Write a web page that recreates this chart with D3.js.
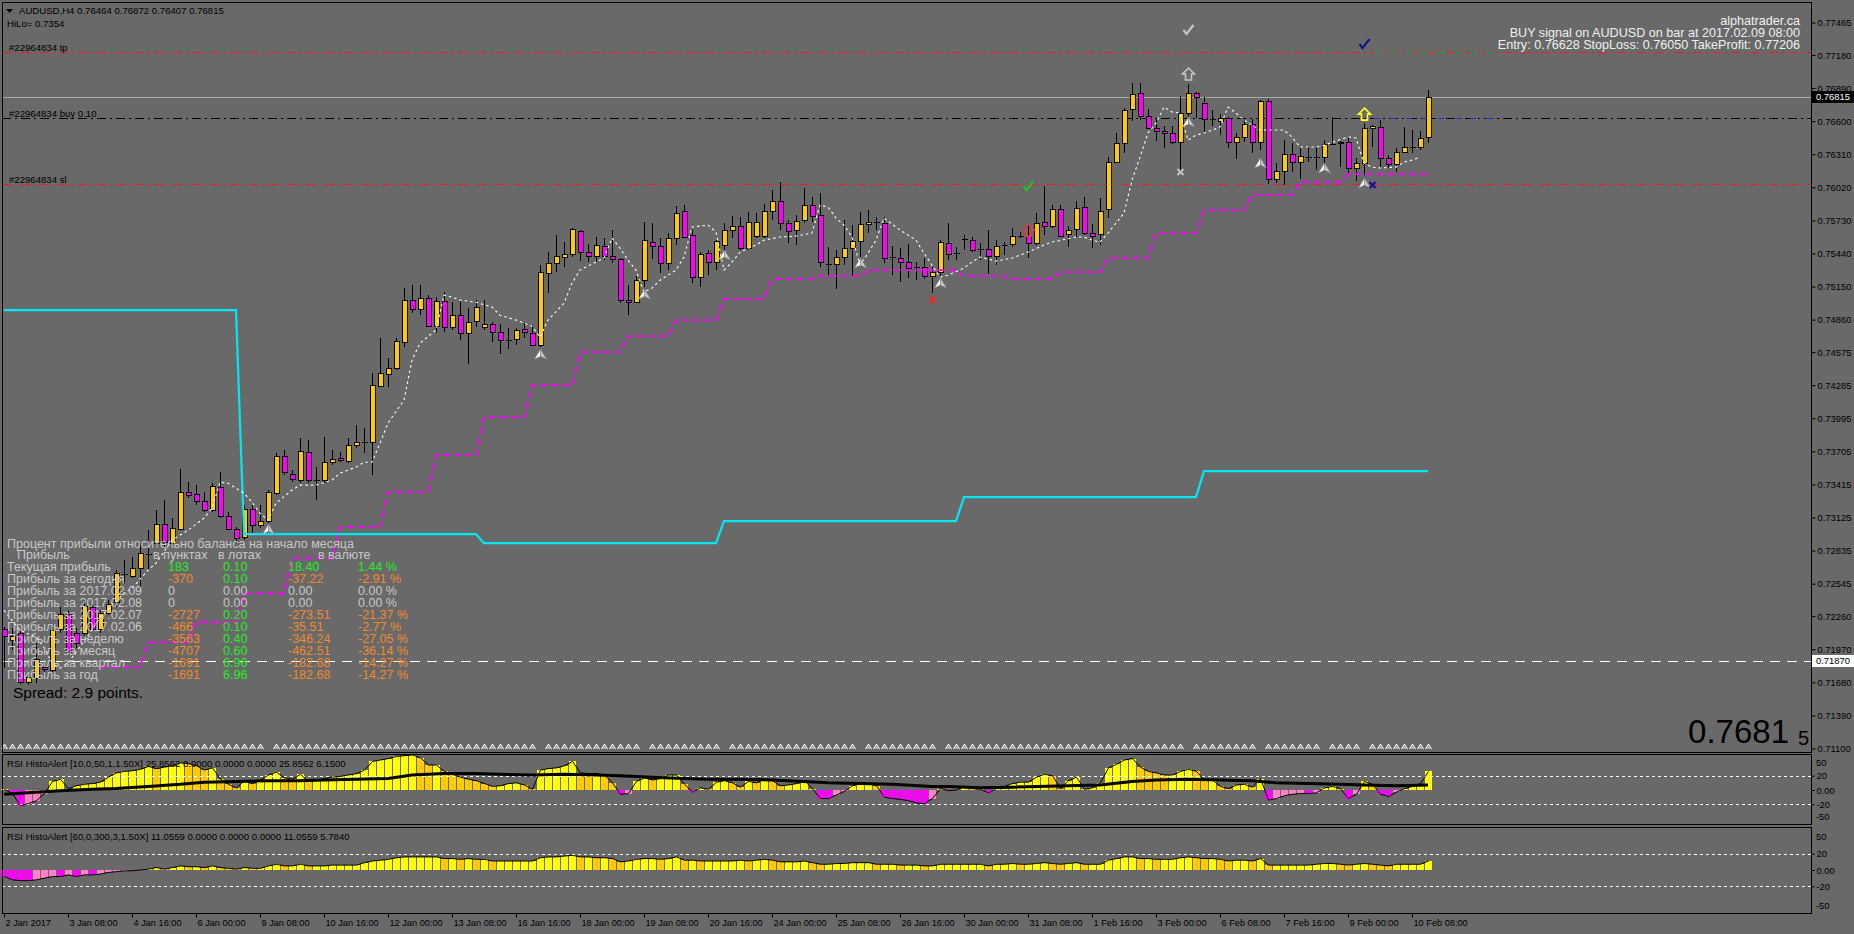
<!DOCTYPE html>
<html><head><meta charset="utf-8">
<script src="https://cdn.jsdelivr.net/npm/d3@7"></script>
<style>
html,body{margin:0;padding:0;background:#696969;overflow:hidden}
svg{display:block}
text{font-family:"Liberation Sans",Arial,sans-serif}
</style></head><body>
<svg id="c" width="1854" height="934"></svg>
<script>
// ---------------- DATA ----------------
const tickIdx = [0,8,16,24,32,40,48,56,64,72,80,88,96,104,112,120,128,136,144,152,160,168,176];
const tickLabels = ["2 Jan 2017","3 Jan 08:00","4 Jan 16:00","6 Jan 00:00","9 Jan 08:00","10 Jan 16:00","12 Jan 00:00","13 Jan 08:00","16 Jan 16:00","18 Jan 00:00","19 Jan 08:00","20 Jan 16:00","24 Jan 00:00","25 Jan 08:00","26 Jan 16:00","30 Jan 00:00","31 Jan 08:00","1 Feb 16:00","3 Feb 00:00","6 Feb 08:00","7 Feb 16:00","9 Feb 00:00","10 Feb 08:00"];
const priceTicks = [0.77465,0.77180,0.76890,0.76600,0.76310,0.76020,0.75730,0.75440,0.75150,0.74860,0.74575,0.74285,0.73995,0.73705,0.73415,0.73125,0.72835,0.72545,0.72260,0.71970,0.71680,0.71390,0.71100];

// OHLC in points (price x 1e5), H4 bars
const openPts = [72146,72049,72111,71681,71716,71813,71786,72146,72277,72111,
72111,72338,72146,72286,72383,72628,72610,72681,72804,72900,
73067,72900,73023,73347,73330,73268,73189,73391,73137,73023,
72953,73198,73058,73093,73339,73663,73505,73452,73698,73452,
73452,73610,73645,73619,73759,73786,73786,74277,74382,74435,
74663,75031,74952,75048,74803,75022,74794,74899,74742,74847,
74794,74820,74750,74680,74689,74777,74742,74636,75268,75356,
75409,75435,75637,75452,75417,75505,75417,75391,75031,75013,
75206,75540,75505,75356,75575,75812,75601,75233,75443,75365,
75514,75645,75680,75487,75593,75593,75812,75899,75707,75645,
75733,75864,75777,75347,75347,75409,75487,75549,75698,75715,
75707,75409,75400,75365,75321,75321,75241,75277,75531,75443,
75566,75557,75479,75479,75417,75514,75522,75593,75593,75531,
75715,75680,75829,75610,75654,75847,75619,75610,75829,76241,
76408,76706,76846,76645,76540,76513,76496,76417,76671,76846,
76759,76618,76601,76627,76417,76461,76575,76417,76776,76092,
76162,76312,76241,76285,76285,76285,76399,76408,76417,76189,
76232,76540,76548,76276,76224,76329,76373,76373,76464];
const highPts = [72163,72155,72137,71769,72023,71874,72163,72338,72312,72155,
72400,72374,72312,72400,72663,72751,72777,72900,73014,73189,
73277,73119,73549,73435,73409,73347,73426,73523,73172,73040,
73233,73233,73233,73365,73689,73716,73540,73821,73803,73567,
73830,73716,73698,73821,73935,73909,74391,74698,74523,74698,
75136,75162,75162,75075,75057,75101,75013,75031,74961,75031,
75031,74838,74820,74785,74785,74829,74812,75338,75452,75601,
75540,75663,75645,75522,75584,75575,75645,75400,75162,75241,
75715,75707,75575,75619,75855,75864,75645,75452,75470,75557,
75707,75768,75759,75803,75794,75873,75996,76066,75733,75777,
76013,75934,75969,75496,75470,75733,75689,75803,75820,75759,
75759,75505,75487,75522,75365,75400,75321,75557,75707,75496,
75601,75584,75531,75645,75557,75540,75663,75628,75689,75794,
76031,75864,75864,75680,75899,75934,75698,75926,76285,76496,
76715,76934,76934,76706,76627,76557,76557,76820,76925,76855,
76811,76697,76662,76636,76496,76610,76618,76785,76794,76232,
76434,76408,76364,76373,76364,76434,76636,76425,76461,76276,
76583,76566,76610,76303,76364,76548,76522,76513,76872];
const lowPts = [71804,71962,71663,71654,71672,71742,71760,72111,71936,71979,
72076,72137,72111,72269,72338,72549,72593,72514,72663,72865,
72856,72883,73014,73295,73233,73172,73172,73119,73014,72900,
72926,72988,73032,73075,73321,73496,73435,73426,73426,73277,
73426,73584,73610,73602,73733,73689,73496,74268,74268,74417,
74619,74917,74899,74803,74742,74750,74768,74680,74470,74794,
74768,74663,74558,74601,74636,74698,74628,74619,75092,75277,
75321,75409,75373,75365,75365,75382,75356,75004,74899,75004,
75145,75391,75268,75294,75514,75575,75180,75145,75250,75294,
75470,75575,75470,75470,75575,75575,75733,75645,75531,75514,
75707,75715,75321,75250,75127,75338,75233,75409,75619,75645,
75356,75250,75189,75224,75206,75215,75092,75233,75382,75382,
75470,75452,75382,75259,75338,75426,75496,75575,75400,75514,
75601,75663,75584,75496,75584,75601,75487,75514,75750,76232,
76320,76601,76610,76531,76425,76364,76399,76154,76636,76627,
76496,76557,76478,76364,76268,76417,76320,76347,76048,76057,
76039,76154,76092,76241,76171,76232,76390,76197,76145,76074,
76127,76373,76197,76189,76154,76320,76320,76347,76407];
const closePts = [72084,72084,71681,71725,71883,71795,72137,72277,71944,72023,
72347,72146,72286,72365,72637,72628,72681,72813,72804,73067,
72909,73032,73347,73321,73268,73189,73400,73137,73023,72944,
73198,73058,73093,73347,73663,73523,73461,73707,73452,73452,
73610,73637,73628,73759,73786,73786,74286,74391,74435,74671,
75031,74952,75048,74803,75022,74794,74899,74742,74838,74970,
74820,74750,74680,74680,74768,74750,74636,75277,75356,75417,
75435,75654,75452,75417,75514,75417,75391,75031,75013,75206,
75557,75505,75356,75575,75794,75584,75233,75435,75365,75549,
75645,75680,75487,75715,75715,75812,75899,75707,75637,75724,
75864,75768,75365,75347,75409,75487,75549,75698,75715,75715,
75400,75409,75365,75312,75321,75241,75277,75540,75435,75443,
75566,75470,75479,75417,75505,75514,75593,75593,75531,75707,
75680,75829,75593,75645,75838,75619,75593,75812,76241,76408,
76697,76838,76645,76540,76513,76496,76417,76671,76846,76811,
76618,76618,76627,76417,76461,76575,76417,76776,76092,76162,
76312,76241,76294,76285,76285,76399,76399,76417,76189,76232,
76540,76557,76276,76224,76329,76373,76373,76452,76815];

// HiLo (cyan) step levels
const hiloStart = [0,30,60,90,120,150];
const hiloVal = [0.74943,0.72979,0.72900,0.73093,0.73304,0.73532];
// daily trailing stop (magenta dashed), points
const trailStart = [12,18,24,30,36,42,48,54,60,66,72,78,84,90,96,102,108,114,120,126,132,138,144,150,156,162,168,174];
const trailPts = [71813,72031,72207,72461,72769,73040,73347,73672,74005,74286,74575,74715,74856,75040,75215,75241,75294,75294,75241,75215,75277,75400,75619,75820,75952,76066,76136,76136];
// white dotted line, read points (bar index, points)
const wlIdx = [0,2,4,5,6,7,8,11,12,15,16,18,19,21,23,25,26,27,28,30,31,32,33,34,36,37,39,41,42,44,45,46,47,48,50,51,52,54,55,56,57,59,61,62,64,66,67,68,70,71,72,74,75,76,77,78,79,80,81,82,84,85,86,88,89,90,91,92,94,95,97,99,101,102,103,104,105,106,107,108,109,110,112,114,115,116,117,118,120,121,122,124,126,128,130,131,134,135,136,137,138,140,141,142,143,144,145,146,147,148,149,150,152,153,154,155,157,160,161,162,164,165,168,169,170,171,172,174,175,176,177];
const wlPts = [72312,72137,72076,71988,71848,71804,71848,72137,72251,72461,72505,72663,72725,72926,73014,73119,73207,73435,73426,73339,73260,73163,73102,73251,73365,73409,73409,73452,73514,73567,73610,73610,73777,73953,74154,74505,74654,74768,75075,75057,75031,75013,74970,74899,74856,74803,74706,74856,75004,75180,75294,75365,75400,75575,75487,75382,75294,75101,75136,75206,75294,75409,75672,75689,75628,75294,75365,75452,75514,75557,75584,75593,75619,75864,75847,75750,75689,75584,75338,75443,75557,75750,75645,75557,75443,75338,75233,75250,75312,75365,75409,75373,75400,75452,75514,75540,75584,75584,75557,75540,75619,75794,76083,76285,76496,76583,76723,76680,76671,76434,76478,76496,76548,76723,76671,76610,76522,76522,76461,76373,76373,76390,76461,76452,76232,76197,76189,76197,76241,76259,76285];
// signal arrows (white) at bar lows
const arrIdx = [33,67,80,90,107,117,148,157,165,170];
const arrTipPts = [73067,74601,75127,75470,75400,75224,76636,76277,76233,76101];
// signal symbols
const upIdx = [128,148,170], upPts = [75645,77013,76662], upCol = ["#e23a3a","#c4c4c4","#ffff20"];
const chkIdx = [128,148,170], chkPts = [76031,77399,77276], chkCol = ["#20c020","#c4c4c4","#101080"];
const crsIdx = [116,147,171], crsPts = [75031,76154,76040], crsCol = ["#ff2020","#c4c4c4","#101090"];

// RSI HistoAlert #1 and #2 per bar
const hist1 = [1,-5,-22,-19,-15,-5,12,15,2,6,8,9,11,18,24,26,27,29,33,30,32,34,38,37,34,28,31,15,8,3,13,9,14,21,25,17,15,22,12,14,16,18,19,21,23,28,40,42,44,47,48,49,45,35,35,26,22,18,15,13,9,5,6,9,10,7,1,28,30,31,34,40,24,23,23,21,10,-6,-5,12,17,14,16,21,21,8,-3,3,1,11,13,10,4,12,10,15,13,6,7,9,13,2,-12,-12,-7,-2,6,9,9,6,-10,-12,-13,-15,-18,-19,-12,2,-1,0,5,2,1,-4,2,5,9,11,11,18,22,20,2,13,18,1,3,10,31,36,42,44,32,26,24,21,21,26,29,26,14,14,5,2,7,8,4,16,-14,-12,-8,-6,-5,-5,-4,3,5,2,-12,-6,12,8,-6,-9,-3,2,5,9,26];
const sig1Idx = [0,3,7,11,14,18,22,25,29,33,37,40,44,48,51,55,59,62,66,70,74,77,81,85,88,92,96,100,103,107,111,116,118,122,126,129,133,137,141,144,148,152,156,159,163,167,170,174,178];
const sig1Val = [-6,-4,-1,1,2,5,8,11,12,13,13,14,15,16,21,23,23,22,21,22,21,20,18,16,15,15,14,12,10,9,8,5,5,3,4,5,6,7,12,14,15,14,13,10,9,8,7,6,7];
const hist2 = [-8,-12,-13,-13,-12,-10,-8,-8,-6,-8,-6,-6,-5,-3,-2,-1,-1,0,1,3,1,3,5,4,4,3,5,3,2,1,3,2,2,5,7,5,5,7,5,5,5,6,6,6,6,9,11,12,13,15,16,16,16,16,16,14,14,13,14,13,13,11,11,11,11,11,11,15,16,16,17,18,16,16,15,15,14,10,11,13,14,14,13,14,16,12,12,11,11,11,11,11,12,11,12,13,12,10,10,10,11,9,7,7,8,8,9,9,9,7,7,7,6,6,6,5,5,7,7,7,7,7,7,5,7,7,8,7,7,8,9,8,7,8,9,7,7,7,12,14,16,16,14,14,13,13,13,15,16,15,14,14,13,11,12,12,11,14,6,6,6,6,6,6,7,8,8,7,6,7,8,7,6,5,7,7,7,7,11];
const ind1Levels = [20,0,-20], ind2Levels = [20,0,-20];

// trade objects
const tpPrice = 0.77206, entryPrice = 0.76628, slPrice = 0.76050;
const bidPrice = 0.76815, linePrice = 0.71870;

// info table
const tableTitle = "Процент прибыли относительно баланса на начало месяца";
const colHeads = ["Прибыль","в пунктах","в лотах","в валюте"];
const rowLabels = ["Текущая прибыль","Прибыль за сегодня","Прибыль за 2017.02.09","Прибыль за 2017.02.08","Прибыль за 2017.02.07","Прибыль за 2017.02.06","Прибыль за неделю","Прибыль за месяц","Прибыль за квартал","Прибыль за год"];
const colPoints = ["183","-370","0","0","-2727","-466","-3563","-4707","-1691","-1691"];
const colLots = ["0.10","0.10","0.00","0.00","0.20","0.10","0.40","0.60","6.96","6.96"];
const colMoney = ["18.40","-37.22","0.00","0.00","-273.51","-35.51","-346.24","-462.51","-182.68","-182.68"];
const colPct = ["1.44 %","-2.91 %","0.00 %","0.00 %","-21.37 %","-2.77 %","-27.05 %","-36.14 %","-14.27 %","-14.27 %"];

// ---------------- DRAW ----------------
const svg = d3.select('#c');
const FONT = '"Liberation Sans",Arial,sans-serif';
const PL = 2, PR = 1811, PT = 2, PB = 752;
const I1T = 755, I1B = 825, I2T = 827, I2B = 913;
const N = openPts.length;
const bars = d3.range(N).map(i => ({i, o: openPts[i]/1e5, h: highPts[i]/1e5, l: lowPts[i]/1e5, c: closePts[i]/1e5}));

const x = d3.scaleLinear().domain([0, 178]).range([4, 1428]);
const y = d3.scaleLinear().domain([0.71100, 0.77465]).range([748.5, 22.5]);
const y1 = d3.scaleLinear().domain([-49, 49]).range([I1B, I1T]);
const y2 = d3.scaleLinear().domain([-52.6, 52.6]).range([I2B, I2T]);

svg.append('rect').attr('width', 1854).attr('height', 934).attr('fill', '#696969');

// horizontal trade lines
const gLines = svg.append('g').attr('shape-rendering', 'crispEdges');
function hline(p, col, dash, w) {
  gLines.append('line').attr('x1', PL).attr('x2', PR)
    .attr('y1', Math.round(y(p)) + 0.5).attr('y2', Math.round(y(p)) + 0.5)
    .attr('stroke', col).attr('stroke-width', w || 1).attr('stroke-dasharray', dash || null);
}
hline(bidPrice, '#a9a9a9');
hline(tpPrice, '#e82020', '9,4,2,4');
hline(slPrice, '#e82020', '9,4,2,4');
hline(entryPrice, '#000000', '9,4,2,4');
hline(linePrice, '#ffffff', '10,7', 1.6);
// signal entry/tp lines (blue/green) from signal bar
gLines.append('line').attr('x1', x(170)).attr('x2', 1500).attr('y1', Math.round(y(entryPrice)) + 0.5).attr('y2', Math.round(y(entryPrice)) + 0.5)
  .attr('stroke', '#2030ff').attr('stroke-dasharray', '6,10').attr('stroke-dashoffset', -10);
gLines.append('line').attr('x1', x(170)).attr('x2', 1495).attr('y1', Math.round(y(tpPrice)) + 0.5).attr('y2', Math.round(y(tpPrice)) + 0.5)
  .attr('stroke', '#20a020').attr('stroke-dasharray', '6,10').attr('stroke-dashoffset', -10);

// candles
const gC = svg.append('g').attr('shape-rendering', 'crispEdges');
gC.selectAll('line.wick').data(bars).join('line').attr('class', 'wick')
  .attr('x1', d => x(d.i) + 0.5).attr('x2', d => x(d.i) + 0.5)
  .attr('y1', d => y(d.h)).attr('y2', d => y(d.l)).attr('stroke', '#000');
const bodies = bars.filter(d => Math.abs(y(d.o) - y(d.c)) >= 1);
gC.selectAll('rect.body').data(bodies).join('rect').attr('class', 'body')
  .attr('x', d => x(d.i) - 2).attr('width', 5)
  .attr('y', d => Math.round(Math.min(y(d.o), y(d.c))) + 0.5)
  .attr('height', d => Math.max(1, Math.round(Math.abs(y(d.o) - y(d.c)))))
  .attr('fill', d => d.c > d.o ? '#ffcc00' : '#ff00ff').attr('stroke', '#000');
const dojis = bars.filter(d => Math.abs(y(d.o) - y(d.c)) < 1);
gC.selectAll('line.doji').data(dojis).join('line').attr('class', 'doji')
  .attr('x1', d => x(d.i) - 2.5).attr('x2', d => x(d.i) + 3.5)
  .attr('y1', d => Math.round(y(d.o)) + 0.5).attr('y2', d => Math.round(y(d.o)) + 0.5)
  .attr('stroke', '#000').attr('stroke-width', 1.5);

// cyan HiLo line
const hilo = d3.range(N).map(i => { let k = 0; hiloStart.forEach((s, j) => { if (i >= s) k = j; }); return hiloVal[k]; });
svg.append('path').datum(hilo).attr('fill', 'none').attr('stroke', '#00e8f4').attr('stroke-width', 2.2)
  .attr('d', d3.line().x((d, i) => x(i)).y(d => y(d)));

// magenta trailing line
const trailBars = d3.range(trailStart[0], N).map(i => { let k = 0; trailStart.forEach((s, j) => { if (i >= s) k = j; }); return {i, v: trailPts[k] / 1e5}; });
svg.append('path').datum(trailBars).attr('fill', 'none').attr('stroke', '#ff00ff').attr('stroke-width', 1.8)
  .attr('stroke-dasharray', '7,4').attr('d', d3.line().x(d => x(d.i)).y(d => y(d.v)));

// white dotted line
const wl = wlIdx.map((d, k) => ({i: d, v: wlPts[k] / 1e5}));
svg.append('path').datum(wl).attr('fill', 'none').attr('stroke', '#ffffff').attr('stroke-width', 1.1)
  .attr('stroke-dasharray', '2.5,3').attr('d', d3.line().x(d => x(d.i)).y(d => y(d.v)));

// signal arrows (white)
const gA = svg.append('g');
arrIdx.forEach((bi, k) => {
  const cx = x(bi) + 0.5, t = y(arrTipPts[k] / 1e5);
  gA.append('path').attr('d', `M${cx},${t} L${cx - 6},${t + 10} L${cx},${t + 7} Z`).attr('fill', '#ffffff').attr('stroke', '#8a8a8a').attr('stroke-width', 0.6);
  gA.append('path').attr('d', `M${cx},${t} L${cx + 6},${t + 10} L${cx},${t + 7} Z`).attr('fill', '#c8c8c8').attr('stroke', '#8a8a8a').attr('stroke-width', 0.6);
});
// bottom glyph row
const skip = new Set(arrIdx);
gA.selectAll('path.g').data(d3.range(N).filter(i => !skip.has(i))).join('path').attr('class', 'g')
  .attr('d', i => { const cx = x(i) + 0.5; return `M${cx - 3},749 L${cx},744 L${cx + 3},749`; })
  .attr('fill', '#a8a8a8').attr('stroke', '#f0f0f0').attr('stroke-width', 1);

// up arrows (outlined)
upIdx.forEach((bi, k) => {
  const cx = x(bi) + 0.5, cy = y(upPts[k] / 1e5);
  svg.append('path').attr('d', `M${cx},${cy - 6} L${cx + 6},${cy} L${cx + 3},${cy} L${cx + 3},${cy + 6} L${cx - 3},${cy + 6} L${cx - 3},${cy} L${cx - 6},${cy} Z`)
    .attr('fill', 'none').attr('stroke', upCol[k]).attr('stroke-width', 1.6);
});
chkIdx.forEach((bi, k) => {
  const cx = x(bi) + 0.5, cy = y(chkPts[k] / 1e5);
  svg.append('path').attr('d', `M${cx - 5},${cy} L${cx - 2},${cy + 4} L${cx + 5},${cy - 5}`)
    .attr('fill', 'none').attr('stroke', chkCol[k]).attr('stroke-width', 2.2);
});
crsIdx.forEach((bi, k) => {
  const cx = x(bi) + 0.5, cy = y(crsPts[k] / 1e5);
  svg.append('path').attr('d', `M${cx - 3},${cy - 3} L${cx + 3},${cy + 3} M${cx - 3},${cy + 3} L${cx + 3},${cy - 3}`)
    .attr('fill', 'none').attr('stroke', crsCol[k]).attr('stroke-width', 2);
});

// ---- indicators ----
function histColor(vals, i) {
  const d = vals[i], p = i > 0 ? vals[i - 1] : d;
  if (d >= 0) return d >= p ? '#ffff00' : '#ffcc00';
  return d <= p ? '#ff00ff' : '#ff80c8';
}
function drawInd(vals, ys, levels, top, bottom) {
  const g = svg.append('g');
  g.append('g').attr('shape-rendering', 'crispEdges').selectAll('rect').data(vals).join('rect')
    .attr('x', (d, i) => x(i) - 3).attr('width', 7)
    .attr('y', d => Math.min(ys(d), ys(0))).attr('height', d => Math.abs(ys(d) - ys(0)))
    .attr('fill', (d, i) => histColor(vals, i));
  levels.filter(l => l !== 0).forEach(l => {
    g.append('line').attr('x1', PL).attr('x2', PR).attr('y1', Math.round(ys(l)) + 0.5).attr('y2', Math.round(ys(l)) + 0.5)
      .attr('stroke', '#ffffff').attr('stroke-dasharray', '3,3').attr('shape-rendering', 'crispEdges');
  });
  g.append('path').datum(vals).attr('fill', 'none').attr('stroke', '#000').attr('stroke-width', 1)
    .attr('d', d3.line().x((d, i) => x(i) + 0.5).y(d => ys(d)));
  return g;
}
const g1 = drawInd(hist1, y1, ind1Levels, I1T, I1B);
g1.append('path').datum(sig1Idx.map((d, k) => ({i: d, v: sig1Val[k]}))).attr('fill', 'none').attr('stroke', '#000').attr('stroke-width', 3)
  .attr('d', d3.line().x(d => x(d.i)).y(d => y1(d.v)));
drawInd(hist2, y2, ind2Levels, I2T, I2B);

// ---- borders ----
const gB = svg.append('g').attr('fill', 'none').attr('stroke', '#000').attr('shape-rendering', 'crispEdges');
gB.append('rect').attr('x', PL + 0.5).attr('y', PT + 0.5).attr('width', PR - PL).attr('height', PB - PT);
gB.append('rect').attr('x', PL + 0.5).attr('y', I1T - 0.5).attr('width', PR - PL).attr('height', I1B - I1T);
gB.append('rect').attr('x', PL + 0.5).attr('y', I2T + 0.5).attr('width', PR - PL).attr('height', I2B - I2T);

// ---- axes ----
function styleAxis(g, fs) {
  g.select('.domain').remove();
  g.selectAll('line').attr('stroke', '#000');
  g.selectAll('text').attr('fill', '#000').style('font-family', FONT).style('font-size', fs + 'px');
}
const ya = svg.append('g').attr('transform', `translate(${PR + 0.5},0)`)
  .call(d3.axisRight(y).tickValues(priceTicks).tickSize(4).tickPadding(2).tickFormat(d3.format('.5f')));
styleAxis(ya, 9.4);

// price labels on axis
function axisBox(p, bg, fg) {
  const yy = Math.round(y(p));
  svg.append('rect').attr('x', PR + 1).attr('y', yy - 6).attr('width', 42).attr('height', 12).attr('fill', bg);
  svg.append('text').attr('x', PR + 5).attr('y', yy).attr('dy', '0.35em').attr('fill', fg)
    .style('font-family', FONT).style('font-size', '9.4px').text(d3.format('.5f')(p));
}
axisBox(bidPrice, '#000000', '#ffffff');
axisBox(linePrice, '#ffffff', '#000000');

function indAxis(ys, top, bottom, dTop, dBot) {
  const g = svg.append('g').attr('transform', `translate(${PR + 0.5},0)`)
    .call(d3.axisRight(ys).tickValues([20, 0, -20]).tickSize(3).tickPadding(2).tickFormat(d => d === 0 ? '0.00' : String(d)));
  styleAxis(g, 9.4);
  svg.append('text').attr('x', PR + 5).attr('y', top + dTop).attr('dy', '0.35em').style('font-family', FONT).style('font-size', '9.4px').text('50');
  svg.append('text').attr('x', PR + 5).attr('y', bottom - dBot).attr('dy', '0.35em').style('font-family', FONT).style('font-size', '9.4px').text('-50');
}
indAxis(y1, I1T, I1B, 8, 8);
indAxis(y2, I2T, I2B, 10, 7);

const xa = svg.append('g').attr('transform', `translate(0,${I2B + 0.5})`)
  .call(d3.axisBottom(x).tickValues(tickIdx).tickSize(4).tickPadding(2).tickFormat((d, k) => tickLabels[k]));
styleAxis(xa, 9.2);
xa.selectAll('text').attr('text-anchor', 'start').attr('x', 1);

// ---- texts ----
function txt(xx, yy, s, fs, col, anchor) {
  return svg.append('text').attr('x', xx).attr('y', yy).attr('fill', col || '#000')
    .attr('text-anchor', anchor || 'start').style('font-family', FONT).style('font-size', fs + 'px').text(s);
}
svg.append('path').attr('d', 'M6,9 L13,9 L9.5,13 Z').attr('fill', '#000');
txt(19, 14, 'AUDUSD,H4  0.76464 0.76872 0.76407 0.76815', 9.6);
txt(7, 27, 'HiLo= 0.7354', 9.6);
txt(9, 51, '#22964834 tp', 9.6);
txt(9, 117, '#22964834 buy 0.10', 9.6);
txt(9, 183, '#22964834 sl', 9.6);
txt(1800, 25, 'alphatrader.ca', 12.6, '#f0f0f0', 'end');
txt(1800, 37, 'BUY signal on AUDUSD on bar at 2017.02.09 08:00', 12.6, '#f0f0f0', 'end');
txt(1800, 49, 'Entry: 0.76628 StopLoss: 0.76050 TakeProfit: 0.77206', 12.6, '#f0f0f0', 'end');
txt(7, 767, 'RSI HistoAlert [10,0,50,1,1.50X] 25.8562 0.0000 0.0000 0.0000 25.8562 6.1500', 9.6);
txt(7, 840, 'RSI HistoAlert [60,0,300,3,1.50X] 11.0559 0.0000 0.0000 0.0000 11.0559 5.7840', 9.6);
txt(1789, 743, '0.7681', 33, '#000', 'end');
txt(1798, 745, '5', 20, '#000');

// table
const SIL = '#c8c8c8', GRN = '#22ee22', ORG = '#f08a2a';
const valCol = s => { const v = parseFloat(s); return v > 0 ? GRN : (v < 0 ? ORG : SIL); };
txt(7, 548, tableTitle, 12.5, SIL);
txt(17, 559, colHeads[0], 12.5, SIL);
txt(153, 559, colHeads[1], 12.5, SIL);
txt(218, 559, colHeads[2], 12.5, SIL);
txt(318, 559, colHeads[3], 12.5, SIL);
rowLabels.forEach((lab, k) => {
  const yy = 570.5 + 12.04 * k;
  txt(7, yy, lab, 12.5, SIL);
  txt(168, yy, colPoints[k], 12.5, valCol(colPoints[k]));
  txt(223, yy, colLots[k], 12.5, valCol(colLots[k]));
  txt(288, yy, colMoney[k], 12.5, valCol(colMoney[k]));
  txt(358, yy, colPct[k], 12.5, valCol(colPct[k]));
});
txt(13, 698, 'Spread: 2.9 points.', 15.5, '#000');
</script>
</body></html>
